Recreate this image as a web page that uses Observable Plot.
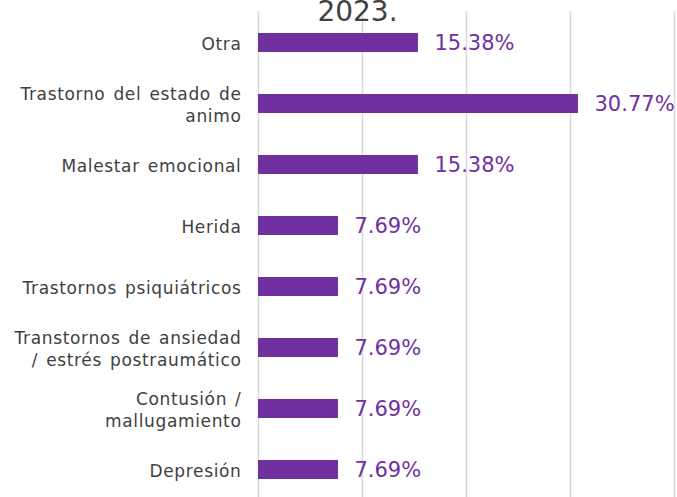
<!DOCTYPE html>
<html>
<head>
<meta charset="utf-8">
<script src="https://cdn.jsdelivr.net/npm/d3@7"></script>
<script src="https://cdn.jsdelivr.net/npm/@observablehq/plot@0.6"></script>
<style>
  html, body { margin: 0; padding: 0; background: #fff; }
  svg { font-family: "DejaVu Sans", sans-serif; }
</style>
</head>
<body>
<div id="chart"></div>
<script>
const categories = [
  "Otra",
  "Trastorno del estado de animo",
  "Malestar emocional",
  "Herida",
  "Trastornos psiquiátricos",
  "Transtornos de ansiedad / estrés postraumático",
  "Contusión / mallugamiento",
  "Depresión"
];
const labels = [
  "Otra",
  "Trastorno del estado de\nanimo",
  "Malestar emocional",
  "Herida",
  "Trastornos psiquiátricos",
  "Transtornos de ansiedad\n/ estrés postraumático",
  "Contusión /\nmallugamiento",
  "Depresión"
];
const values = [15.38, 30.77, 15.38, 7.69, 7.69, 7.69, 7.69, 7.69];
const gridTicks = [0, 10, 20, 30, 40];
const titleText = "2023.";

const data = categories.map((c, i) => ({cat: c, label: labels[i], value: values[i]}));
const purple = "#7030A0";

const chart = Plot.plot({
  width: 677,
  height: 497,
  marginLeft: 258,
  marginRight: 3,
  marginTop: 11,
  marginBottom: 0,
  style: {overflow: "visible", fontFamily: "DejaVu Sans, sans-serif"},
  x: {domain: [0, 40], axis: null},
  y: {domain: categories, axis: null, range: [11.5, 500.5], paddingInner: 0.69, paddingOuter: 0.345},
  marks: [
    Plot.ruleX(gridTicks, {stroke: "#d9d9d9", strokeWidth: 1.5}),
    Plot.barX(data, {y: "cat", x: "value", fill: purple}),
    Plot.text(data, {y: "cat", text: "label", frameAnchor: "left", textAnchor: "end", dx: -17, fontSize: 17, fill: "#404040", lineHeight: 1.3, ariaLabel: "category-labels"}),
    Plot.text(data, {y: "cat", x: "value", text: d => d.value.toFixed(2) + "%", textAnchor: "start", dx: 16, fontSize: 21, fill: purple}),
    Plot.text([titleText], {frameAnchor: "top", text: d => d, dx: -109, dy: 9, lineAnchor: "bottom", fontSize: 28, fill: "#404040"})
  ]
});
let labelTexts = chart.querySelectorAll('g[aria-label="category-labels"] text');
if (!labelTexts.length) {
  const groups = chart.querySelectorAll('g[aria-label="text"]');
  if (groups.length) labelTexts = groups[0].querySelectorAll("text");
}
labelTexts.forEach(t => {
  t.style.letterSpacing = "0.65px";
  t.style.wordSpacing = "2px";
  t.setAttribute("letter-spacing", "0.65");
  t.setAttribute("word-spacing", "2");
});
document.getElementById("chart").appendChild(chart);
</script>
</body>
</html>
